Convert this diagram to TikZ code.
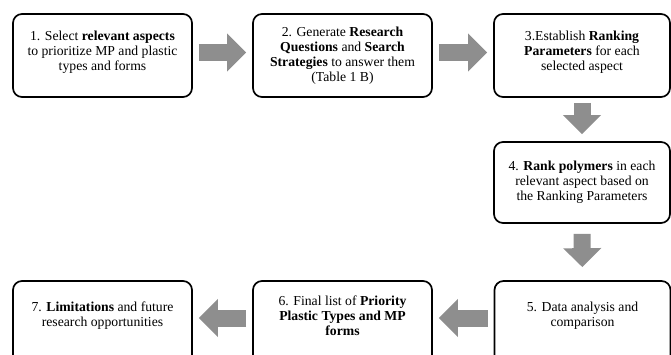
\documentclass[tikz,border=0pt]{standalone}
\usepackage{fontspec}
\setmainfont{Liberation Serif}
\usetikzlibrary{arrows.meta}
\definecolor{arrowgray}{HTML}{8E8E8E}
\tikzset{
  x=1pt, y=-1pt,
  stepbox/.style={draw=black, line width=1.7pt, rounded corners=9pt, inner sep=0pt},
  steptext/.style={align=center, font=\fontsize{13.7}{15}\selectfont, inner sep=0pt},
  blockarrow/.style={draw=arrowgray, line width=17pt,
    -{Triangle[length=19pt,width=37pt]}, shorten <=6pt, shorten >=6pt}
}
\begin{document}
\begin{tikzpicture}
\useasboundingbox (0,0) rectangle (671,354);
\clip (0,0) rectangle (671,354);
% boxes
\node[stepbox, minimum width=179pt, minimum height=83pt] (b1) at (102.5,55.5) {};
\node[stepbox, minimum width=179pt, minimum height=83pt] (b2) at (342.5,55.5) {};
\node[stepbox, minimum width=176pt, minimum height=83pt] (b3) at (582,55.5) {};
\node[stepbox, minimum width=176pt, minimum height=81pt] (b4) at (582,182.5) {};
\node[stepbox, minimum width=176pt, minimum height=84pt] (b5) at (582.5,323) {};
\node[stepbox, minimum width=179pt, minimum height=84pt] (b6) at (342.5,323) {};
\node[stepbox, minimum width=179pt, minimum height=84pt] (b7) at (102.5,323) {};
% texts
\node[steptext] (t1) at (102.5,52) {1. Select \textbf{relevant aspects}\\to prioritize MP and plastic\\types and forms};
\node[steptext] (t2) at (342.5,55.5) {2. Generate \textbf{Research}\\\textbf{Questions} and \textbf{Search}\\\textbf{Strategies} to answer them\\(Table 1 B)};
\node[steptext] (t3) at (582,52) {3.Establish \textbf{Ranking}\\\textbf{Parameters} for each\\selected aspect};
\node[steptext] (t4) at (582,182) {4. \textbf{Rank polymers} in each\\relevant aspect based on\\the Ranking Parameters};
\node[steptext] (t5) at (582.5,316) {5. Data analysis and\\comparison};
\node[steptext] (t6) at (342.5,316) {6. Final list of \textbf{Priority}\\\textbf{Plastic Types and MP}\\\textbf{forms}};
\node[steptext] (t7) at (102.5,316) {7. \textbf{Limitations} and future\\research opportunities};
% arrows
\draw[blockarrow] ([yshift=3pt]b1.east) -- ([yshift=3pt]b2.west);
\draw[blockarrow] ([yshift=3pt]b2.east) -- ([yshift=3pt]b3.west);
\draw[blockarrow, shorten <=5pt, shorten >=7pt] (b3.south) -- (b4.north);
\draw[blockarrow, shorten <=10pt, shorten >=13pt] (b4.south) -- (b5.north);
\draw[blockarrow] ([yshift=5pt]b5.west) -- ([yshift=5pt]b6.east);
\draw[blockarrow] ([yshift=5pt]b6.west) -- ([yshift=5pt]b7.east);
\end{tikzpicture}
\end{document}
